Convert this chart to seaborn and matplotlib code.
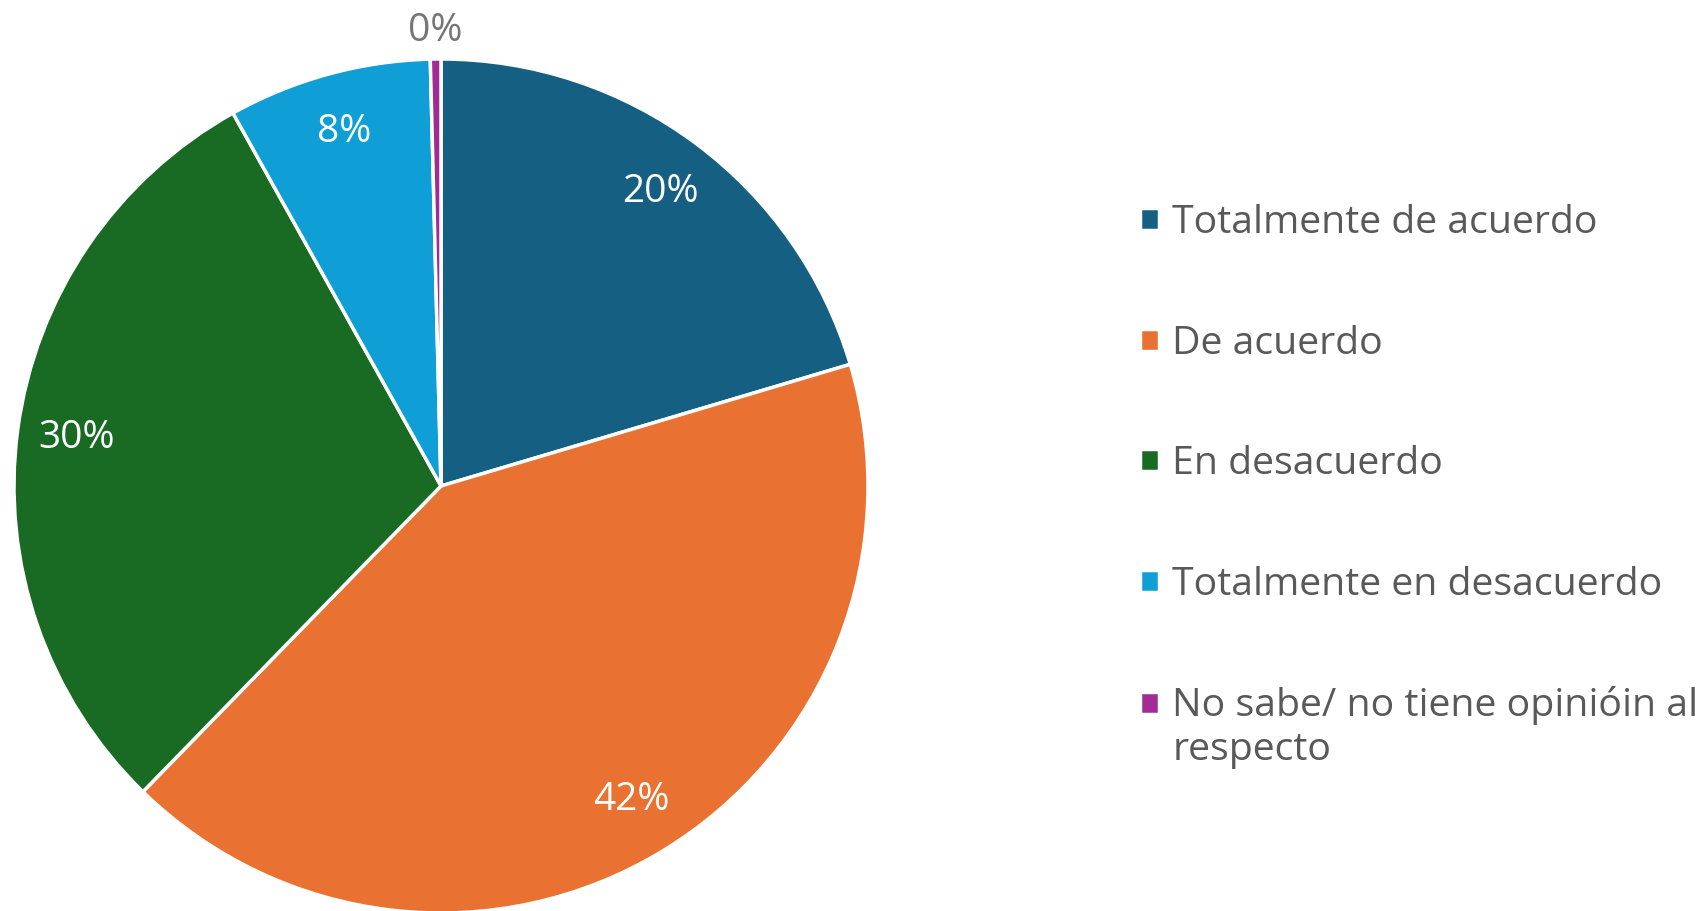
import matplotlib
matplotlib.use("Agg")
import matplotlib.pyplot as plt
from matplotlib.legend_handler import HandlerPatch
import seaborn as sns
import numpy as np

categories = ["Totalmente de acuerdo", "De acuerdo", "En desacuerdo",
              "Totalmente en desacuerdo", "No sabe/ no tiene opinióin al\nrespecto"]
values = [20.4, 41.9, 29.6, 7.7, 0.4]
colors = ["#156082", "#E97132", "#196B24", "#0F9ED5", "#A02B93"]

sns.set_theme(style="white")
plt.rcParams['font.family'] = ['Open Sans', 'DejaVu Sans']

W, H = 1706, 911
fig = plt.figure(figsize=(W / 100, H / 100), dpi=100)
cx, cy, R = 441, 486, 427
ax = fig.add_axes([(cx - R) / W, (H - cy - R) / H, 2 * R / W, 2 * R / H])

wedges, texts, autotexts = ax.pie(
    values, colors=colors, startangle=90, counterclock=False,
    autopct=lambda p: f"{p:.0f}%", pctdistance=0.86,
    wedgeprops=dict(edgecolor="white", linewidth=2.5),
    textprops=dict(color="white", fontsize=28),
)
ax.set_aspect("equal")
ax.set_xlim(-1, 1)
ax.set_ylim(-1, 1)
ax.axis("off")

# small slice label outside, in grey
t = autotexts[-1]
x, y = t.get_position()
d = np.hypot(x, y)
t.set_position((x / d * 1.065, y / d * 1.065))
t.set_color("#757575")


class TopHandler(HandlerPatch):
    def __init__(self, shift=0.0, **kw):
        super().__init__(**kw)
        self.shift = shift

    def create_artists(self, legend, orig_handle, xdescent, ydescent,
                       width, height, fontsize, trans):
        return super().create_artists(legend, orig_handle, xdescent,
                                      ydescent - self.shift * fontsize,
                                      width, height, fontsize, trans)


fs = 28.3
leg = fig.legend(wedges, categories, loc="upper left",
                 bbox_to_anchor=(1140 / W, 1 - 204 / H),
                 frameon=False, fontsize=fs, labelcolor="#595959",
                 handlelength=0.49, handleheight=0.49, handletextpad=0.33,
                 labelspacing=2.1, borderpad=0, borderaxespad=0,
                 handler_map={wedges[-1]: TopHandler(shift=0.64)})

fig.savefig("out.png", dpi=100)
